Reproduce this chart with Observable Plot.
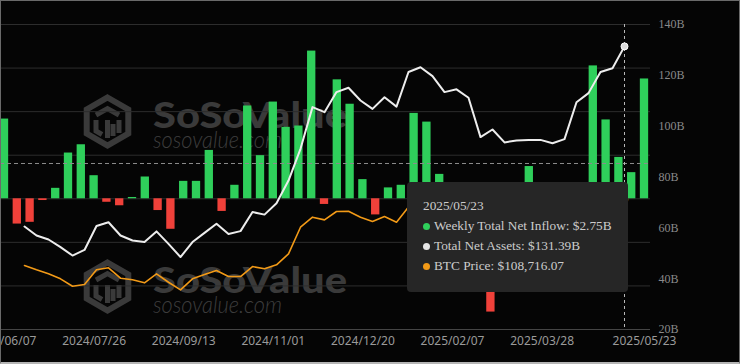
<!DOCTYPE html>
<html>
<head>
<meta charset="utf-8">
<script src="https://cdn.jsdelivr.net/npm/d3@7"></script>
<script src="https://cdn.jsdelivr.net/npm/@observablehq/plot@0.6"></script>
<style>
html, body { margin: 0; padding: 0; background: #000; }
#wrap { position: relative; width: 740px; height: 364px; background: #050505; overflow: hidden; }
#wrap > svg { position: absolute; left: 0; top: 0; }
#frame { position: absolute; left: 0; top: 0; width: 740px; height: 364px; box-sizing: border-box;
  border: 1px solid #6a6a6a; border-bottom: 2px solid #b5b5b5; pointer-events: none; }
#tip { position: absolute; left: 407px; top: 182px; width: 221px; height: 110px; box-sizing: border-box;
  background: #262626; border-radius: 4px; padding: 14px 0 0 16px;
  font-family: "Liberation Serif", serif; font-size: 13.3px; line-height: 20px; color: #cccccc; white-space: nowrap; }
#tip .dot { display: inline-block; width: 7px; height: 7px; border-radius: 50%; margin: 0 4.5px 0 -0.5px; vertical-align: 0; }
</style>
</head>
<body>
<div id="wrap">
  <svg id="wm" width="740" height="364">
    <defs>
      <g id="wmark">
        <path d="M25.5,4.5 L46.3,16.5 L46.3,40.5 L25.5,52.5 L4.7,40.5 L4.7,16.5 Z" fill="none" stroke="#3a3a3a" stroke-width="6" stroke-linejoin="miter"/>
        <path d="M14,22 L25.5,15.5 L37,22 M25.5,27 L25.5,45 M14,27 L14,38 L20,41.5 M37,27 L37,40 M31,31 L31,43" fill="none" stroke="#3a3a3a" stroke-width="5"/>
        <text x="71" y="35" font-family="Lato, sans-serif" font-weight="900" font-size="36" fill="#3a3a3a" textLength="194" lengthAdjust="spacingAndGlyphs">SoSoValue</text>
        <text x="71" y="55" font-family="Lato, sans-serif" font-style="italic" font-weight="300" font-size="23" fill="#3d3d3d" textLength="129" lengthAdjust="spacingAndGlyphs">sosovalue.com</text>
      </g>
    </defs>
    <use href="#wmark" transform="translate(82,93)"/>
    <use href="#wmark" transform="translate(82,258)"/>
  </svg>
  <div id="tip"></div>
  <div id="frame"></div>
</div>
<script>
// ---- data ----
const dates = ["2024/06/07","2024/06/14","2024/06/21","2024/06/28","2024/07/05","2024/07/12","2024/07/19","2024/07/26",
  "2024/08/02","2024/08/09","2024/08/16","2024/08/23","2024/08/30","2024/09/06","2024/09/13","2024/09/20","2024/09/27",
  "2024/10/04","2024/10/11","2024/10/18","2024/10/25","2024/11/01","2024/11/08","2024/11/15","2024/11/22","2024/11/29",
  "2024/12/06","2024/12/13","2024/12/20","2024/12/27","2025/01/03","2025/01/10","2025/01/17","2025/01/24","2025/01/31",
  "2025/02/07","2025/02/14","2025/02/21","2025/02/28","2025/03/07","2025/03/14","2025/03/21","2025/03/28","2025/04/04",
  "2025/04/11","2025/04/18","2025/04/25","2025/05/02","2025/05/09","2025/05/16","2025/05/23"];
// Weekly total net inflow, $B
const inflow = [1.83,-0.58,-0.54,-0.04,0.24,1.05,1.24,0.53,-0.08,-0.16,0.03,0.50,-0.27,-0.70,0.40,0.40,1.11,
  -0.29,0.31,2.13,0.99,2.22,1.64,1.67,3.39,-0.13,2.73,2.17,0.44,-0.37,0.25,0.31,1.96,1.76,0.56,
  0.20,-0.58,-0.55,-2.60,-0.74,-0.92,0.74,0.20,-0.17,-0.71,0.02,3.05,1.81,0.95,0.60,2.75];
// Total net assets, $B
const tna = [60.5,57.0,55.4,52.4,49.1,51.3,60.7,62.2,57.0,55.0,54.4,58.6,53.7,48.5,54.4,58.0,61.6,
  57.6,58.7,66.2,65.2,69.7,78.6,91.1,107.5,105.5,113.4,115.1,110.1,106.8,111.4,107.7,121.3,123.2,119.7,
  113.4,114.5,111.2,95.7,98.7,93.6,94.4,94.6,94.6,93.3,94.9,109.4,113.0,121.3,122.8,131.39];
// BTC price, $
const btc = [68730,66110,63680,60630,56130,57160,66110,67330,61000,60030,58200,63680,58560,53940,60630,63250,65690,
  62030,62030,68120,66720,69150,75850,92040,98160,96500,101600,101780,98130,95510,98550,95080,104400,104800,102400,
  96500,97600,96100,84300,86700,84000,84100,84400,83800,83700,84500,94700,96900,102900,104000,108716.07];

const xTickLabels = ["2024/06/07","2024/07/26","2024/09/13","2024/11/01","2024/12/20","2025/02/07","2025/03/28","2025/05/23"];
const inflowGrid = [-3,-2,-1,0,1,2,3,4];
const tnaTicks = [20,40,60,80,100,120,140];
const pointerInflow = 0.81;   // horizontal crosshair level (inflow axis units)
const hoverDate = "2025/05/23";

const data = dates.map((date, i) => ({date, inflow: inflow[i], tna: tna[i], btc: btc[i]}));
const hover = data.filter(d => d.date === hoverDate);

// ---- layout ----
const W = 740, H = 364, mTop = 24, mBottom = 35, mLeft = 0, mRight = 90;
const step = 12.8, firstCenter = 4, pad = 0.35;
const bandStart = firstCenter - step * (1 - pad) / 2;
const bandEnd = bandStart + step * (dates.length - pad);
const lastCenter = firstCenter + step * (dates.length - 1);
const GREEN = "#2fcf5b", RED = "#f0413a", WHITE = "#ededed", ORANGE = "#f29a17";

const common = {width: W, height: H, marginTop: mTop, marginBottom: mBottom, marginLeft: mLeft, marginRight: mRight};

const barsPlot = Plot.plot({
  ...common,
  style: "background: transparent; overflow: hidden; font-family: 'Noto Sans', sans-serif; font-size: 12px; color: #9a9a9a;",
  x: {type: "band", domain: dates, range: [bandStart, bandEnd], paddingInner: pad, paddingOuter: 0, align: 0,
      tickSize: 0, tickPadding: 7, tickFormat: d => xTickLabels.includes(d) ? d : "", label: null},
  y: {domain: [-3, 4], axis: null},
  marks: [
    Plot.ruleY(inflowGrid, {stroke: "#2d2d2d"}),
    Plot.ruleY([inflowGrid[0]], {stroke: "#454545"}),
    Plot.barY(data.filter(d => d.inflow >= 0), {x: "date", y: "inflow", fill: GREEN}),
    Plot.barY(data.filter(d => d.inflow < 0), {x: "date", y: "inflow", fill: RED}),
    Plot.ruleY([pointerInflow], {stroke: "#8c8c8c", strokeDasharray: "4,3"})
  ]
});

const tnaPlot = Plot.plot({
  ...common,
  style: "background: transparent; overflow: hidden; font-family: 'Liberation Serif', serif; font-size: 12px; color: #8a8a8a;",
  x: {type: "point", domain: dates, range: [firstCenter, lastCenter], axis: null},
  y: {domain: [20, 140], axis: "right", ticks: tnaTicks, tickFormat: d => d + "B", tickSize: 0, tickPadding: 8, label: null},
  marks: [
    Plot.ruleX(hover, {x: "date", stroke: "#b8b8b8", strokeDasharray: "3,3"}),
    Plot.line(data, {x: "date", y: "tna", stroke: WHITE, strokeWidth: 2}),
    Plot.dot(hover, {x: "date", y: "tna", r: 3.5, fill: "#dcdcdc", stroke: "#ffffff", strokeWidth: 1})
  ]
});

const btcPlot = Plot.plot({
  ...common,
  style: "background: transparent; overflow: hidden;",
  x: {type: "point", domain: dates, range: [firstCenter, lastCenter], axis: null},
  y: {domain: [29800, 215400], axis: null},
  marks: [
    Plot.line(data, {x: "date", y: "btc", stroke: ORANGE, strokeWidth: 1.6}),
    Plot.dot(hover, {x: "date", y: "btc", r: 3, fill: "#ffffff", stroke: ORANGE, strokeWidth: 1.5})
  ]
});

const wrap = document.getElementById("wrap");
const tip = document.getElementById("tip");
for (const p of [barsPlot, tnaPlot, btcPlot]) {
  p.style.position = "absolute"; p.style.left = "0px"; p.style.top = "0px";
  wrap.insertBefore(p, tip);
}

// tooltip
const h = hover[0];
const fmtB = v => "$" + v.toFixed(2) + "B";
const fmtP = v => "$" + v.toLocaleString("en-US", {minimumFractionDigits: 2, maximumFractionDigits: 2});
const rows = [
  [GREEN, "Weekly Total Net Inflow: " + fmtB(h.inflow)],
  ["#e6e6e6", "Total Net Assets: " + fmtB(h.tna)],
  [ORANGE, "BTC Price: " + fmtP(h.btc)]
];
tip.innerHTML = `<div>${h.date}</div>` + rows.map(([c, t]) =>
  `<div><span class="dot" style="background:${c}"></span>${t}</div>`).join("");
</script>
</body>
</html>
